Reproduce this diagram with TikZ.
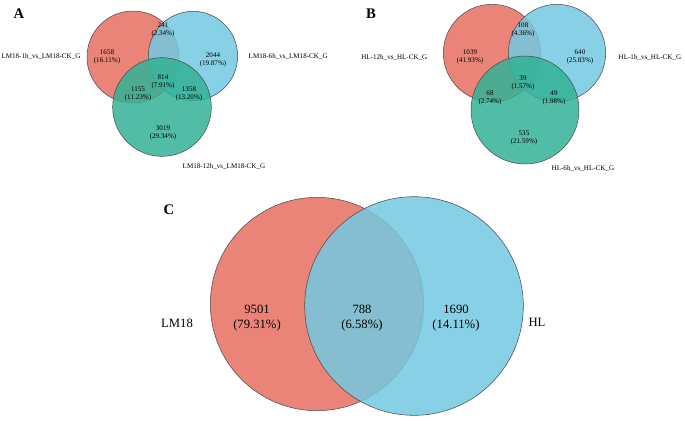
\documentclass[tikz,border=0pt]{standalone}
\usepackage{fontspec}
\setmainfont{Liberation Serif}
\begin{document}
\begin{tikzpicture}[x=0.75pt, y=-0.75pt]
  % Define styles
  \tikzset{set/.style={draw=black!70, line width=0.4pt, fill opacity=0.85, circle, inner sep=0pt},
    small/.style={font=\fontsize{5.3}{6}\selectfont, align=center},
    big/.style={font=\fontsize{9.5}{11}\selectfont, align=center},
    panel/.style={font=\bfseries\fontsize{11}{12}\selectfont}}
  \definecolor{vred}{RGB}{232,110,96}
  \definecolor{vblue}{RGB}{115,200,225}
  \definecolor{vgreen}{RGB}{50,178,150}
  \useasboundingbox (0,0) rectangle (685,437);

  % Panel A
  \node[panel] (la) at (19,14) {A};
  \node[set, fill=vred, minimum size=69pt] (a1) at (133,57) {};
  \node[set, fill=vblue, minimum size=67pt] (a2) at (193,56) {};
  \node[set, fill=vgreen, minimum size=74pt] (a3) at (162,107) {};
  \node[small] (a100) at (107,57) {1658\\(16.11\%)};
  \node[small] (a110) at (163,30) {241\\(2.34\%)};
  \node[small] (a010) at (213,60) {2044\\(19.87\%)};
  \node[small] (a111) at (163,82) {814\\(7.91\%)};
  \node[small] (a101) at (138,94) {1155\\(11.23\%)};
  \node[small] (a011) at (189,94) {1358\\(13.20\%)};
  \node[small] (a001) at (163,133) {3019\\(29.34\%)};
  \node[small, anchor=east, inner sep=1pt] (na1) at (82,56) {LM18-1h\_vs\_LM18-CK\_G};
  \node[small, anchor=west] (na2) at (244,56) {LM18-6h\_vs\_LM18-CK\_G};
  \node[small, anchor=west] (na3) at (178,166) {LM18-12h\_vs\_LM18-CK\_G};

  % Panel B
  \node[panel] (lb) at (371,14) {B};
  \node[set, fill=vred, minimum size=73pt] (b1) at (492,53) {};
  \node[set, fill=vblue, minimum size=73pt] (b2) at (557,53) {};
  \node[set, fill=vgreen, minimum size=81pt] (b3) at (525,110) {};
  \node[small] (b100) at (470,57) {1039\\(41.93\%)};
  \node[small] (b110) at (523,30) {108\\(4.36\%)};
  \node[small] (b010) at (580,57) {640\\(25.83\%)};
  \node[small] (b111) at (523,83) {39\\(1.57\%)};
  \node[small] (b101) at (490,98) {68\\(2.74\%)};
  \node[small] (b011) at (554,98) {49\\(1.98\%)};
  \node[small] (b001) at (524,138) {535\\(21.59\%)};
  \node[small, anchor=east] (nb1) at (432,57) {HL-12h\_vs\_HL-CK\_G};
  \node[small, anchor=west] (nb2) at (614,57) {HL-1h\_vs\_HL-CK\_G};
  \node[small, anchor=west] (nb3) at (547,168) {HL-6h\_vs\_HL-CK\_G};

  % Panel C
  \node[panel] (lc) at (169,210) {C};
  \node[set, fill=vred, minimum size=160pt] (c1) at (317,304) {};
  \node[set, fill=vblue, minimum size=164pt] (c2) at (414,306) {};
  \node[big] (c10) at (257,318) {9501\\(79.31\%)};
  \node[big] (c11) at (362,318) {788\\(6.58\%)};
  \node[big] (c01) at (456,318) {1690\\(14.11\%)};
  \node[big] (nc1) at (177,323) {LM18};
  \node[big] (nc2) at (537,322) {HL};
\end{tikzpicture}
\end{document}
